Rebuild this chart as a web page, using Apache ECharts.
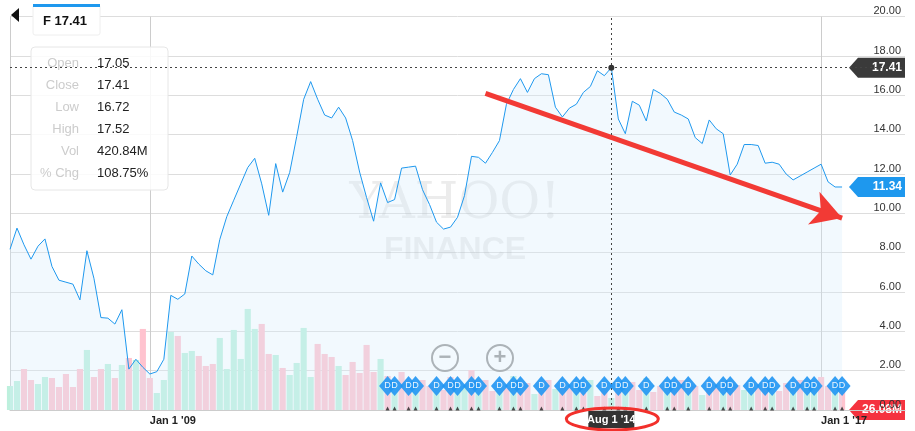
<!DOCTYPE html>
<html>
<head>
<meta charset="utf-8">
<script src="https://cdn.jsdelivr.net/npm/echarts@6/dist/echarts.min.js"></script>
<style>
  html, body {margin: 0; padding: 0; background: #fff;}
  #chart {width: 915px; height: 431px;}
</style>
</head>
<body>
<div id="chart"></div>
<script>
// monthly closes, May 2007 .. Apr 2017
var prices = [
  8.17, 9.25, 8.4, 7.67, 8.33, 8.7, 7.3, 6.6, 6.5, 6.4,
  5.6, 8.1, 6.7, 4.7, 4.67, 4.37, 5.1, 2.08, 2.58, 2.17,
  1.83, 1.95, 2.58, 5.83, 5.63, 5.9, 7.83, 7.42, 7.08, 6.87,
  8.67, 9.83, 10.67, 11.5, 12.33, 12.8, 11.5, 9.9, 12.53, 11.08,
  12.08, 13.9, 15.8, 16.7, 15.8, 15.0, 14.85, 15.4, 14.85, 13.7,
  12.1, 10.8, 9.6, 11.55, 10.55, 10.7, 12.3, 12.35, 12.4, 11.2,
  10.45, 9.55, 9.2, 9.3, 9.8, 10.9, 12.9, 12.85, 12.55, 13.1,
  13.7, 15.55, 16.3, 16.85, 16.15, 16.85, 17.1, 17.05, 15.4, 14.9,
  15.35, 15.55, 16.15, 16.45, 17.25, 17.0, 17.41, 14.8, 14.05, 15.7,
  15.5, 14.7, 16.3, 16.1, 15.8, 15.15, 15.0, 14.8, 13.85, 13.55,
  14.75, 14.3, 14.05, 11.95, 12.5, 13.5, 13.5, 13.45, 12.55, 12.6,
  12.5, 12.0, 11.7, 11.9, 12.1, 12.3, 12.5, 11.6, 11.34, 11.34
];
// volume bar heights (relative), and direction (1 up / 0 down)
var volumes = [
  24, 29, 41, 30, 26, 33, 32, 23, 36, 23, 41, 60, 33, 41, 46, 32, 45, 52, 50, 81,
  32, 17, 30, 78, 74, 57, 59, 54, 44, 46, 72, 41, 80, 51, 101, 81, 86, 56, 55, 42,
  35, 47, 82, 33, 66, 56, 53, 44, 35, 48, 37, 65, 38, 51, 34, 30, 38, 26, 22, 30,
  24, 28, 20, 33, 26, 24, 40, 22, 30, 19, 25, 22, 34, 18, 27, 16, 24, 30, 21, 28,
  22, 26, 17, 30, 14, 23, 12, 25, 21, 28, 20, 32, 18, 24, 26, 20, 30, 22, 24, 15,
  28, 22, 18, 26, 25, 20, 30, 22, 28, 24, 19, 27, 22, 30, 25, 22, 33, 24, 26, 20
];
var volumeUp = [
  1, 1, 0, 0, 1, 1, 0, 0, 0, 0, 0, 1, 0, 0, 1, 0, 1, 0, 1, 0,
  0, 1, 1, 1, 0, 1, 1, 0, 0, 0, 1, 1, 1, 1, 1, 1, 0, 0, 1, 0,
  1, 1, 1, 1, 0, 0, 0, 1, 0, 0, 0, 0, 0, 1, 0, 1, 0, 0, 1, 0,
  0, 1, 0, 0, 1, 1, 0, 1, 0, 0, 1, 0, 1, 0, 0, 1, 0, 0, 1, 0,
  0, 1, 0, 1, 0, 0, 1, 0, 1, 0, 0, 1, 0, 0, 1, 0, 0, 1, 0, 1,
  0, 0, 1, 0, 0, 1, 1, 0, 0, 1, 0, 0, 1, 0, 1, 1, 0, 0, 1, 0
];
// months carrying a dividend marker
var dividends = [
  54, 55, 57, 58, 61, 63, 64, 66, 67, 70, 72, 73, 76, 79, 81, 82, 85, 87, 88, 91,
  94, 95, 97, 100, 102, 103, 106, 108, 109, 112, 114, 115, 118, 119
];
var axisLabels = {20: "Jan 1 '09", 116: "Jan 1 '17"};
var ohlc = [['Open', '17.05'], ['Close', '17.41'], ['Low', '16.72'], ['High', '17.52'],
  ['Vol', '420.84M'], ['% Chg', '108.75%']];

var months = [];
for (var i = 0; i < 129; i++) {
  var m = 4 + i;
  months.push((2007 + Math.floor(m / 12)) + '-' + (m % 12 + 1));
}
var FONT = 'Liberation Sans';
var chart = echarts.init(document.getElementById('chart'));

chart.setOption({
  animation: false,
  textStyle: {fontFamily: FONT},
  grid: {left: 10, right: 10, top: 16.7, bottom: 21},
  xAxis: {
    type: 'category', data: months, boundaryGap: false,
    axisLine: {lineStyle: {color: '#ccc'}},
    axisTick: {show: false},
    axisLabel: {
      interval: function(i) { return !!axisLabels[i]; },
      formatter: function(v, i) { return axisLabels[i] || ''; },
      align: 'left', margin: 5, color: '#222', fontWeight: 'bold', fontSize: 11
    },
    splitLine: {
      show: true, interval: function(i) { return i === 0 || !!axisLabels[i]; },
      lineStyle: {color: '#ccc'}
    }
  },
  yAxis: [{
    type: 'value', position: 'right', min: 0, max: 20, interval: 2,
    axisLine: {show: false}, axisTick: {show: false},
    axisLabel: {inside: true, margin: 4, color: '#333', fontSize: 11, verticalAlign: 'bottom',
      formatter: function(v) { return v.toFixed(2); }},
    splitLine: {lineStyle: {color: '#ddd'}}
  }, {
    type: 'value', min: 0, max: 393, show: false
  }],
  series: [{
    type: 'bar', yAxisIndex: 1, barCategoryGap: '12%', z: 1,
    data: volumes.map(function(v, i) {
      return {value: v, itemStyle: {color: volumeUp[i] ? '#bdf0dd' : '#ffc3cf'}};
    })
  }, {
    type: 'line', data: prices, symbol: 'none', z: 3,
    lineStyle: {color: '#1e98ee', width: 1},
    areaStyle: {color: 'rgba(215,236,252,0.45)'},
    markLine: {
      silent: true, symbol: 'none',
      lineStyle: {color: '#444', type: [2, 3], width: 1},
      label: {show: false},
      data: [{yAxis: 17.41}, {xAxis: 86}]
    }
  }, {
    type: 'line', data: [], z: 6,
    markLine: {
      silent: true, symbol: ['none', 'arrow'], symbolSize: [26, 30],
      lineStyle: {color: '#f23a35', width: 5, type: 'solid'},
      label: {show: false},
      data: [[{coord: [68, 16.1]}, {coord: [119, 9.76]}]]
    }
  }, {
    type: 'scatter', z: 5, symbol: 'diamond', symbolSize: [17, 20],
    itemStyle: {color: '#2196f3', opacity: 0.9},
    label: {show: true, formatter: 'D', color: '#fff', fontSize: 9},
    data: dividends.map(function(i) { return [i, 1.22]; })
  }, {
    type: 'scatter', z: 5, symbol: 'triangle', symbolSize: 4,
    itemStyle: {color: '#222'},
    data: dividends.map(function(i) { return [i, 0.08]; })
  }]
});

function px(i, v) { return chart.convertToPixel({xAxisIndex: 0, yAxisIndex: 0}, [i, v]); }
function tag(y, text, color) {
  return {
    type: 'group', children: [
      {type: 'polygon', shape: {points: [[849, y], [858, y - 10], [905, y - 10], [905, y + 10], [858, y + 10]]},
        style: {fill: color}},
      {type: 'text', style: {x: 902, y: y, text: text, fill: '#fff', font: 'bold 12px ' + FONT,
        align: 'right', verticalAlign: 'middle'}}
    ]
  };
}
var hi = px(86, 17.41), last = px(119, 11.34), aug = px(86, 0);
var gfx = [
  {type: 'text', style: {x: 455, y: 205, text: 'YAHOO!', font: '50px "DejaVu Serif"', fill: 'rgba(160,160,160,0.2)',
    align: 'center', verticalAlign: 'middle'}},
  {type: 'text', style: {x: 455, y: 250, text: 'FINANCE', font: 'bold 32px ' + FONT, fill: 'rgba(160,160,160,0.2)',
    align: 'center', verticalAlign: 'middle'}},
  {type: 'circle', shape: {cx: hi[0], cy: hi[1], r: 3}, style: {fill: '#333'}, z: 10},
  tag(hi[1], '17.41', '#3a3a3a'),
  tag(last[1], '11.34', '#1e98ee'),
  tag(410, '26.08M', '#f5333f'),
  {type: 'rect', shape: {x: aug[0] - 23, y: 411, width: 46, height: 17}, style: {fill: '#333'}},
  {type: 'text', style: {x: aug[0], y: 420, text: "Aug 1 '14", fill: '#fff', font: 'bold 11px ' + FONT,
    align: 'center', verticalAlign: 'middle'}},
  {type: 'ellipse', shape: {cx: aug[0] + 1, cy: 419, rx: 46, ry: 11}, style: {fill: 'none', stroke: '#f2302b', lineWidth: 3}, z: 10},
  {type: 'polygon', shape: {points: [[11, 15], [19, 8], [19, 22]]}, style: {fill: '#111'}},
  {type: 'rect', shape: {x: 33, y: 5, width: 67, height: 30, r: 2}, style: {fill: '#fff', stroke: '#eee'}},
  {type: 'rect', shape: {x: 33, y: 4, width: 67, height: 3}, style: {fill: '#1e98ee'}},
  {type: 'text', style: {x: 43, y: 21, text: 'F 17.41', fill: '#111', font: 'bold 13px ' + FONT, verticalAlign: 'middle'}},
  {type: 'rect', shape: {x: 31, y: 47, width: 137, height: 143, r: 4},
    style: {fill: 'rgba(255,255,255,0.85)', stroke: '#e6e6e6'}}
];
ohlc.forEach(function(row, k) {
  var y = 63 + k * 22;
  gfx.push({type: 'text', style: {x: 79, y: y, text: row[0], fill: '#ccc', font: '13px ' + FONT,
    align: 'right', verticalAlign: 'middle'}});
  gfx.push({type: 'text', style: {x: 97, y: y, text: row[1], fill: '#222', font: '13px ' + FONT,
    verticalAlign: 'middle'}});
});
[[445, '−'], [500, '+']].forEach(function(b) {
  gfx.push({type: 'circle', shape: {cx: b[0], cy: 358, r: 13}, style: {fill: 'rgba(255,255,255,0.6)', stroke: '#999', lineWidth: 2}});
  gfx.push({type: 'text', style: {x: b[0], y: 358, text: b[1], fill: '#999', font: 'bold 22px ' + FONT,
    align: 'center', verticalAlign: 'middle'}});
});
chart.setOption({graphic: gfx});
</script>
</body>
</html>
